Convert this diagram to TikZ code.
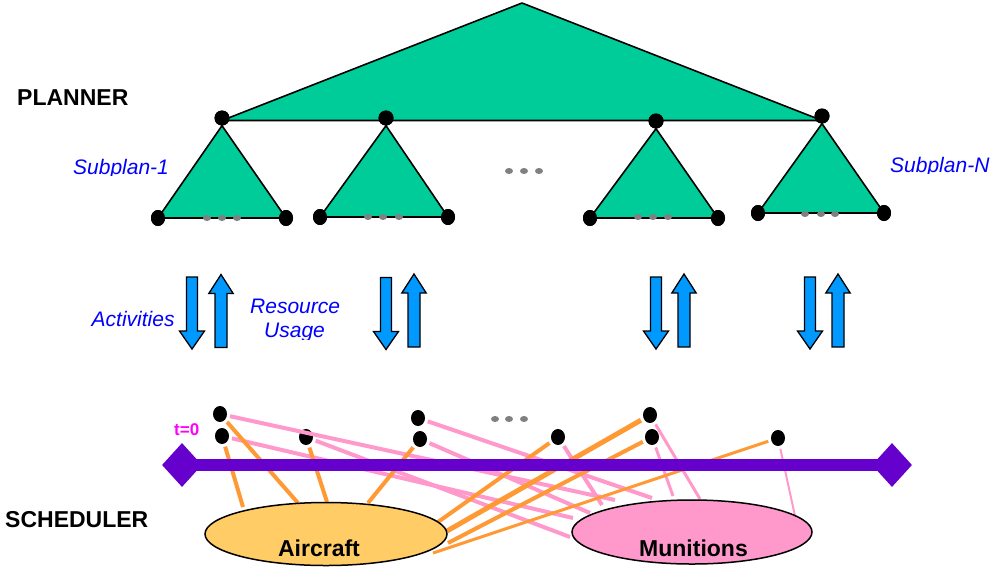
\documentclass[tikz,border=0pt]{standalone}
\usepackage{fontspec}
\setmainfont{Liberation Sans}
\usetikzlibrary{shapes.geometric}
\definecolor{plangreen}{HTML}{00CC99}
\definecolor{arrowblue}{HTML}{0099FF}
\definecolor{labelblue}{HTML}{0000FF}
\definecolor{barpurple}{HTML}{6600CC}
\definecolor{linkorange}{HTML}{FF9933}
\definecolor{linkpink}{HTML}{FF99CC}
\definecolor{airfill}{HTML}{FFCC66}
\definecolor{munfill}{HTML}{FF99CC}
\definecolor{dotgray}{HTML}{808080}
\definecolor{tmagenta}{HTML}{FF00FF}
\begin{document}
\begin{tikzpicture}[x=1pt,y=-1pt,
  bigdot/.style={ellipse, fill=black, minimum width=14pt, minimum height=16pt, inner sep=0pt},
  graydot/.style={ellipse, fill=dotgray, minimum width=8pt, minimum height=6pt, inner sep=0pt},
  tri/.style={fill=plangreen, draw=black, line width=1.6pt, line join=round},
  pinkline/.style={draw=linkpink, line width=4pt, shorten <=3pt},
  orangeline/.style={draw=linkorange, line width=4pt, shorten <=3pt},
  blockarrow/.style={fill=arrowblue, draw=black, line width=1.3pt},
  bluelabel/.style={text=labelblue, font=\fontsize{21}{25}\selectfont\itshape, inner sep=0pt, anchor=base west},
  boldlabel/.style={font=\fontsize{23}{27}\selectfont\bfseries, inner sep=0pt, anchor=base west},
  resource/.style={ellipse, draw=black, line width=1.5pt, inner sep=0pt},
  dnarr/.pic={\draw[blockarrow] (-5.5,0) -- (5.5,0) -- (5.5,54) -- (12.5,54) -- (0,72) -- (-12.5,54) -- (-5.5,54) -- cycle;},
  uparr/.pic={\draw[blockarrow] (0,0) -- (12.2,19) -- (6,19) -- (6,73) -- (-6,73) -- (-6,19) -- (-12.2,19) -- cycle;}
]
\useasboundingbox (0,0) rectangle (993,571);

% ---------------- PLANNER ----------------
\coordinate (apex) at (522,3);
\coordinate (bl) at (222,120.5);
\coordinate (br) at (822,120.5);
\draw[tri] (bl) -- (apex) -- (br) -- cycle;

\node[bigdot, minimum width=15pt, minimum height=15pt] (pd1) at (222,118) {};
\node[bigdot, minimum width=15pt, minimum height=15pt] (pd2) at (386,118) {};
\node[bigdot, minimum width=15pt, minimum height=15pt] (pd3) at (656,121) {};
\node[bigdot, minimum width=15pt, minimum height=15pt] (pd4) at (822,116) {};

\node[bigdot] (s1l) at (158,218) {};
\node[bigdot] (s1r) at (286,218) {};
\node[bigdot] (s2l) at (320,217) {};
\node[bigdot] (s2r) at (448,217) {};
\node[bigdot] (s3l) at (590,218) {};
\node[bigdot] (s3r) at (718,218) {};
\node[bigdot] (s4l) at (758,213) {};
\node[bigdot] (s4r) at (884,213) {};

\draw[tri] (s1l.center) -- (pd1.south) -- (s1r.center) -- cycle;
\draw[tri] (s2l.center) -- (pd2.south) -- (s2r.center) -- cycle;
\draw[tri] (s3l.center) -- (pd3.south) -- (s3r.center) -- cycle;
\draw[tri] (s4l.center) -- (pd4.south) -- (s4r.center) -- cycle;

% redraw dots on top
\foreach \x/\y in {158/218, 286/218, 320/217, 448/217, 590/218, 718/218, 758/213, 884/213}
  \fill (\x,\y) ellipse (7pt and 8pt);
\foreach \x/\y in {222/118, 386/118, 656/121, 822/116}
  \fill (\x,\y) ellipse (7.5pt and 7.5pt);

\node[graydot] (g11) at (207,218) {};
\node[graydot] (g12) at (222,218) {};
\node[graydot] (g13) at (237,218) {};
\node[graydot] (g21) at (368,217) {};
\node[graydot] (g22) at (383,217) {};
\node[graydot] (g23) at (399,217) {};
\node[graydot] (g31) at (638,217) {};
\node[graydot] (g32) at (653,217) {};
\node[graydot] (g33) at (668,217) {};
\node[graydot] (g41) at (805,214) {};
\node[graydot] (g42) at (821,214) {};
\node[graydot] (g43) at (835,214) {};
\node[graydot] (gm1) at (509,171) {};
\node[graydot] (gm2) at (524,171) {};
\node[graydot] (gm3) at (539,171) {};

\node[boldlabel] (planner) at (17,105) {PLANNER};
\begin{scope}
  \clip (60,140) rectangle (200,175.5);
  \node[bluelabel] (sub1) at (73,174.5) {Subplan-1};
\end{scope}
\begin{scope}
  \clip (880,140) rectangle (993,173.5);
  \node[bluelabel] (subn) at (890,172.5) {Subplan-N};
\end{scope}

% ---------------- ARROWS ----------------
\pic at (192,277) {dnarr};
\pic at (221,274.5) {uparr};
\pic at (386,277.5) {dnarr};
\pic at (414,274) {uparr};
\pic at (656,277) {dnarr};
\pic at (684,274) {uparr};
\pic at (810,277) {dnarr};
\pic at (838,274) {uparr};

\node[bluelabel] (act) at (91.5,326.5) {Activities};
\node[bluelabel] (res) at (250,313) {Resource};
\begin{scope}
  \clip (250,318) rectangle (340,339.5);
  \node[bluelabel] (usage) at (264,337) {Usage};
\end{scope}

% ---------------- SCHEDULER ----------------
\node[bigdot] (sd1) at (220,414) {};
\node[bigdot] (sd2) at (222,436) {};
\node[bigdot] (sd3) at (306,437) {};
\node[bigdot] (sd4) at (418,418) {};
\node[bigdot] (sd5) at (420,439) {};
\node[bigdot] (sd6) at (558,437) {};
\node[bigdot] (sd7) at (650,415) {};
\node[bigdot] (sd8) at (652,437) {};
\node[bigdot] (sd9) at (778,438) {};

\node[graydot] (gs1) at (495,419) {};
\node[graydot] (gs2) at (509,419) {};
\node[graydot] (gs3) at (524,419) {};

% end points at the resources
\coordinate (p1) at (615,500);
\coordinate (p2) at (573,518);
\coordinate (p3) at (570,537);
\coordinate (p4) at (652,498);
\coordinate (p5) at (590,513);
\coordinate (p6) at (602,505);
\coordinate (p7) at (673,496);
\coordinate (p8) at (700,499);
\coordinate (p9) at (795,516);
\coordinate (o1) at (243,507);
\coordinate (o2) at (298,503);
\coordinate (o3) at (327,502);
\coordinate (o4) at (368,503);
\coordinate (o5) at (438,522);
\coordinate (o6) at (447,531);
\coordinate (o7) at (448,543);
\coordinate (o8) at (433,553);

\draw[pinkline] (sd1) -- (p1);
\draw[pinkline] (sd2) -- (p2);
\draw[pinkline] (sd3) -- (p3);
\draw[pinkline] (sd4) -- (p4);
\draw[pinkline] (sd5) -- (p5);
\draw[pinkline] (sd6) -- (p6);
\draw[pinkline, line width=3pt] (sd8) -- (p7);
\draw[pinkline, line width=3pt] (sd7) -- (p8);
\draw[pinkline, line width=2pt] (sd9) -- (p9);

\draw[orangeline] (sd2) -- (o1);
\draw[orangeline] (sd1) -- (o2);
\draw[orangeline] (sd3) -- (o3);
\draw[orangeline] (sd5) -- (o4);
\draw[orangeline] (sd6) -- (o5);
\draw[orangeline, line width=5pt] (sd7) -- (o6);
\draw[orangeline] (sd8) -- (o7);
\draw[orangeline, line width=3pt] (sd9) -- (o8);

% time line
\node[diamond, fill=barpurple, minimum width=40pt, minimum height=44pt, inner sep=0pt] (tl) at (182,465) {};
\node[diamond, fill=barpurple, minimum width=40pt, minimum height=44pt, inner sep=0pt] (tr) at (892,465) {};
\draw[barpurple, line width=12pt] (tl.center) -- (tr.center);
\node[font=\fontsize{17}{20}\selectfont\bfseries, text=tmagenta, inner sep=0pt, anchor=base west] (t0) at (174,435) {t=0};

% resources
\node[resource, fill=airfill, minimum width=242pt, minimum height=63pt] (aircraft) at (326,534) {};
\node[resource, fill=munfill, minimum width=240pt, minimum height=64pt] (munitions) at (692,532) {};
\node[boldlabel, anchor=base] (airtext) at (319,556.5) {Aircraft};
\node[boldlabel, anchor=base] (muntext) at (693.5,556.5) {Munitions};

\node[boldlabel] (scheduler) at (5,527) {SCHEDULER};
\end{tikzpicture}
\end{document}
